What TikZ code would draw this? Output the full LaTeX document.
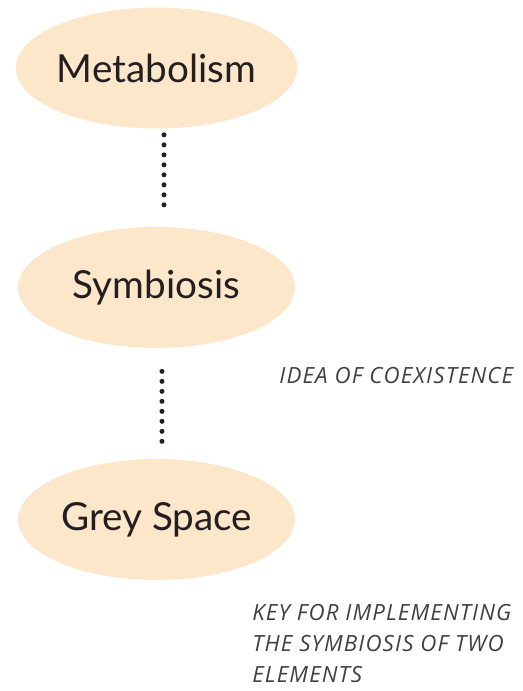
\documentclass[tikz,border=0pt]{standalone}
\usepackage{fontspec}
\setmainfont{Lato}
\newfontfamily\notefont[LetterSpace=5]{Open Sans}
\usepackage{tikz}
\definecolor{peach}{RGB}{253, 231, 202}
\definecolor{ink}{RGB}{35, 31, 32}
\definecolor{notegrey}{RGB}{64, 64, 64}
\usetikzlibrary{shapes.geometric}

\begin{document}
\begin{tikzpicture}[x=0.02cm, y=-0.02cm,
                bubble/.style={ellipse, fill=peach, draw=none, inner sep=0pt,
                    minimum width=5.54cm, minimum height=2.42cm,
                    text=ink, font=\fontsize{22}{26}\selectfont},
                dotline/.style={ink, line width=0.1cm, line cap=round,
                    dash pattern=on 0pt off 0.2cm},
                note/.style={text=notegrey, inner sep=0pt, align=left,
                    font=\notefont\itshape\fontsize{12.7}{17.6}\selectfont}]
                \useasboundingbox (0, 0) rectangle (522, 691);

                \node[bubble] (metab) at (156.5, 68) {Metabolism};
                \node[bubble] (symb) at (156.5, 287.5) {Symbiosis};
                \node[bubble] (grey) at (156.5, 519.5) {Grey Space};

                \draw[dotline, shorten <=0.12cm, shorten >=0.42cm] ([xshift=0.15cm]metab.south) -- ([xshift=0.15cm]symb.north);
                \draw[dotline, shorten <=0.46cm, shorten >=0.32cm] ([xshift=0.11cm]symb.south) -- ([xshift=0.11cm]grey.north);

                \node[note, anchor=base west] (idea) at (279, 383) {IDEA OF COEXISTENCE};
                \node[note, anchor=north west] (key) at (252, 604) {KEY FOR IMPLEMENTING\\THE SYMBIOSIS OF TWO\\ELEMENTS};
            \end{tikzpicture}
\end{document}
